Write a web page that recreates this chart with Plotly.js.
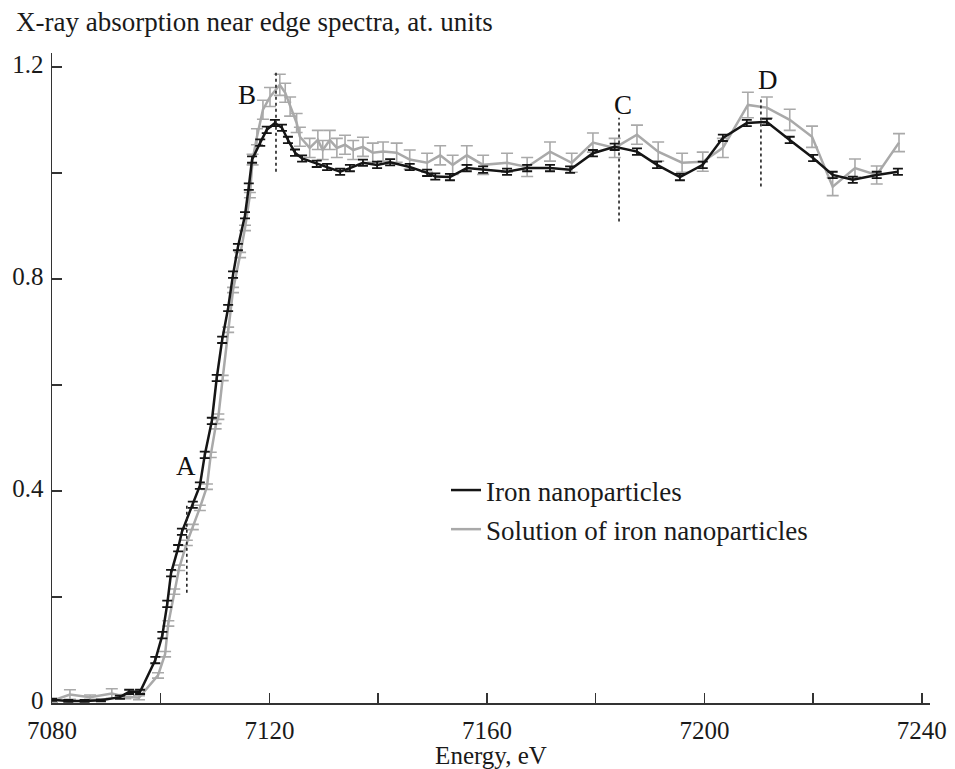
<!DOCTYPE html>
<html>
<head>
<meta charset="utf-8">
<script src="https://cdn.plot.ly/plotly-3.0.1.min.js"></script>
<style>
  html, body { margin: 0; padding: 0; background: #ffffff; }
  #chart { width: 955px; height: 769px; }
</style>
</head>
<body>
<div id="chart"></div>
<script>
// ---- Data ----
const energyIron = [7080, 7083, 7086, 7089, 7092.5, 7094.2, 7096.2, 7099, 7100.3, 7101.2, 7101.9, 7103.2, 7103.9, 7105.9, 7107.2, 7108.1, 7109.4, 7110.3, 7111.3, 7112.4, 7113.3, 7114.2, 7115.5, 7116.2, 7116.8, 7118.3, 7119.5, 7121, 7122.3, 7123.4, 7124.7, 7126, 7128.7, 7130.6, 7133, 7134.8, 7137.2, 7139.8, 7142.2, 7145.8, 7149, 7150.5, 7153.2, 7156.3, 7159.3, 7163.7, 7167.4, 7171.6, 7175.3, 7179.5, 7183.5, 7187.6, 7191.3, 7195.5, 7199.7, 7203.4, 7207.8, 7211.5, 7215.7, 7220, 7223.6, 7227.3, 7231.7, 7235.6];
const absIron = [0.006, 0.004, 0.004, 0.005, 0.011, 0.021, 0.021, 0.081, 0.128, 0.187, 0.245, 0.292, 0.323, 0.374, 0.41, 0.468, 0.532, 0.613, 0.685, 0.745, 0.808, 0.86, 0.92, 0.974, 1.025, 1.057, 1.081, 1.094, 1.085, 1.062, 1.038, 1.027, 1.017, 1.011, 1.002, 1.009, 1.019, 1.015, 1.02, 1.011, 1.0, 0.993, 0.992, 1.009, 1.006, 1.002, 1.009, 1.009, 1.006, 1.037, 1.049, 1.04, 1.015, 0.992, 1.015, 1.066, 1.094, 1.096, 1.062, 1.028, 0.996, 0.987, 0.996, 1.002];
const errIron = [0.002, 0.002, 0.002, 0.002, 0.003, 0.004, 0.004, 0.006, 0.006, 0.006, 0.006, 0.006, 0.006, 0.006, 0.006, 0.006, 0.006, 0.006, 0.006, 0.006, 0.006, 0.006, 0.006, 0.006, 0.006, 0.006, 0.006, 0.006, 0.006, 0.006, 0.006, 0.006, 0.006, 0.006, 0.006, 0.006, 0.006, 0.006, 0.006, 0.006, 0.006, 0.006, 0.006, 0.006, 0.006, 0.006, 0.006, 0.006, 0.006, 0.006, 0.006, 0.006, 0.006, 0.006, 0.006, 0.006, 0.006, 0.006, 0.006, 0.006, 0.006, 0.006, 0.006, 0.006];

const energySolution = [7080, 7083.3, 7087, 7091, 7093.5, 7096, 7099.5, 7100.8, 7101.4, 7102.5, 7103.4, 7104.8, 7105.9, 7107.2, 7108.5, 7109.2, 7110.1, 7110.6, 7111.4, 7112.4, 7113.3, 7114.6, 7115.5, 7116.4, 7116.9, 7117.7, 7118.8, 7120.1, 7121.9, 7122.9, 7123.8, 7125, 7125.6, 7127.4, 7128.9, 7129.8, 7131.1, 7132.4, 7133.9, 7135.4, 7137.2, 7139, 7140.9, 7143.4, 7145.8, 7149, 7151.4, 7153.7, 7156.3, 7159.3, 7163.7, 7167.4, 7171.6, 7175.6, 7179.5, 7183.5, 7187.6, 7191.5, 7195.9, 7199.7, 7203.4, 7208, 7211.5, 7215.7, 7219.8, 7223.6, 7227.7, 7231.7, 7235.8];
const absSolution = [0.004, 0.016, 0.011, 0.018, 0.012, 0.01, 0.052, 0.092, 0.15, 0.21, 0.255, 0.302, 0.332, 0.368, 0.408, 0.468, 0.522, 0.54, 0.613, 0.704, 0.779, 0.845, 0.896, 0.958, 1.025, 1.068, 1.119, 1.143, 1.166, 1.151, 1.125, 1.094, 1.068, 1.047, 1.062, 1.043, 1.062, 1.047, 1.053, 1.043, 1.049, 1.038, 1.04, 1.038, 1.025, 1.019, 1.033, 1.015, 1.033, 1.015, 1.019, 1.011, 1.04, 1.019, 1.057, 1.047, 1.072, 1.04, 1.019, 1.021, 1.047, 1.128, 1.123, 1.1, 1.068, 0.974, 1.009, 0.996, 1.057];
const errSolution = [0.003, 0.009, 0.004, 0.009, 0.004, 0.004, 0.005, 0.005, 0.005, 0.005, 0.005, 0.005, 0.005, 0.005, 0.005, 0.005, 0.005, 0.005, 0.005, 0.005, 0.005, 0.005, 0.005, 0.005, 0.01, 0.015, 0.018, 0.018, 0.02, 0.018, 0.018, 0.018, 0.018, 0.018, 0.018, 0.018, 0.018, 0.018, 0.018, 0.018, 0.018, 0.018, 0.018, 0.018, 0.018, 0.018, 0.018, 0.018, 0.018, 0.018, 0.018, 0.018, 0.018, 0.018, 0.018, 0.018, 0.018, 0.018, 0.018, 0.018, 0.018, 0.024, 0.02, 0.02, 0.02, 0.017, 0.017, 0.017, 0.017];

const seriesNames = ['Iron nanoparticles', 'Solution of iron nanoparticles'];

// Feature labels (A, B, C, D) with their dotted marker lines
const featureLabels = ['A', 'B', 'C', 'D'];
const featureEnergy = [7104.8, 7121.2, 7184.3, 7210.4];
const featureLineTop = [0.372, 1.189, 1.104, 1.142];
const featureLineBottom = [0.208, 1.002, 0.908, 0.974];
const labelEnergy = [7104.6, 7115.9, 7185, 7211.7];
const labelLevel = [0.447, 1.147, 1.128, 1.176];

const xTickVals = [7080, 7100, 7120, 7140, 7160, 7180, 7200, 7220, 7240];
const xTickText = ['7080', '', '7120', '', '7160', '', '7200', '', '7240'];
const yTickVals = [0, 0.2, 0.4, 0.6, 0.8, 1.0, 1.2];
const yTickText = ['0', '', '0.4', '', '0.8', '', '1.2'];

// ---- Styling ----
const FONT = '"Liberation Serif", "Times New Roman", serif';
const BLACK = '#151515';
const GRAY = '#a9a9a9';

const traces = [
  {
    x: energySolution, y: absSolution, name: seriesNames[1], type: 'scatter', mode: 'lines',
    line: { color: GRAY, width: 2.5 },
    error_y: { type: 'data', array: errSolution, visible: true, color: GRAY, thickness: 1.6, width: 6 },
    legendrank: 2, legendgroup: 'b'
  },
  {
    x: energyIron, y: absIron, name: seriesNames[0], type: 'scatter', mode: 'lines',
    line: { color: BLACK, width: 2.5 },
    error_y: { type: 'data', array: errIron, visible: true, color: BLACK, thickness: 1.8, width: 5 },
    legendrank: 1, legendgroup: 'a'
  }
];

const shapes = featureEnergy.map((e, i) => ({
  type: 'line', xref: 'x', yref: 'y',
  x0: e, x1: e, y0: featureLineBottom[i], y1: featureLineTop[i],
  line: { color: '#222', width: 1.6, dash: 'dot' }
}));

const annotations = featureLabels.map((t, i) => ({
  x: labelEnergy[i], y: labelLevel[i], xref: 'x', yref: 'y',
  text: t, showarrow: false,
  font: { family: FONT, size: 27, color: '#111' }
}));

const axisCommon = {
  showgrid: false, zeroline: false, showline: true,
  linecolor: '#333', linewidth: 1.5,
  ticks: 'inside', ticklen: 10, tickwidth: 1.5, tickcolor: '#333',
  tickfont: { family: FONT, size: 25, color: '#1a1a1a' },
  mirror: false
};

const layout = {
  width: 955, height: 769,
  paper_bgcolor: '#ffffff', plot_bgcolor: '#ffffff',
  margin: { l: 52, r: 25, t: 53, b: 66 },
  font: { family: FONT, color: '#1a1a1a' },
  title: {
    text: 'X-ray absorption near edge spectra, at. units',
    font: { family: FONT, size: 27, color: '#1a1a1a' },
    xref: 'container', yref: 'container',
    x: 16 / 955, xanchor: 'left',
    y: 1 - 12 / 769, yanchor: 'top'
  },
  xaxis: Object.assign({}, axisCommon, {
    range: [7080, 7241.5],
    tickmode: 'array', tickvals: xTickVals, ticktext: xTickText,
    ticklabelstandoff: 4,
    title: { text: 'Energy, eV', font: { family: FONT, size: 25, color: '#1a1a1a' }, standoff: 0 }
  }),
  yaxis: Object.assign({}, axisCommon, {
    range: [0, 1.226],
    tickmode: 'array', tickvals: yTickVals, ticktext: yTickText,
    ticklabelstandoff: 2, ticklabelshift: -3
  }),
  showlegend: true,
  legend: {
    x: (446 - 52) / 878, y: (703 - 466) / 650,
    xanchor: 'left', yanchor: 'top',
    bgcolor: 'rgba(0,0,0,0)',
    font: { family: FONT, size: 27, color: '#1a1a1a' },
    traceorder: 'grouped', tracegroupgap: 1
  },
  shapes: shapes,
  annotations: annotations
};

Plotly.newPlot('chart', traces, layout, { displayModeBar: false, staticPlot: true });
</script>
</body>
</html>
